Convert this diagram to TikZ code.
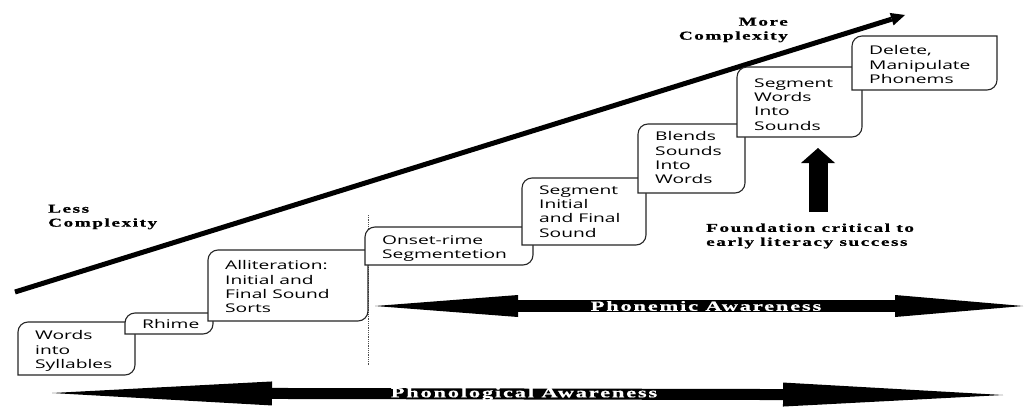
\documentclass[tikz,border=0pt]{standalone}
\usepackage{fontspec}
\newfontfamily\boxfont[FakeStretch=1.6]{Open Sans}
\newfontfamily\labelfont[FakeStretch=1.6,LetterSpace=13,BoldFeatures={FakeBold=0.8}]{Liberation Serif}
\usetikzlibrary{arrows.meta}

\tikzset{
  boxline/.style={draw=black!85, line width=1.1pt, fill=white},
  stairframe/.style={anchor=north west, inner sep=0pt, outer sep=0pt},
  stairtext/.style={anchor=north west, inner sep=0pt, align=left,
    font=\boxfont\fontsize{12}{14.3}\selectfont},
  lbl/.style={inner sep=0pt, font=\labelfont\bfseries\fontsize{12}{14}\selectfont},
  bandlbl/.style={inner sep=0pt, text=white,
    font=\labelfont\bfseries\fontsize{14}{16}\selectfont},
  band/.style={line width=12pt, black},
}

% one step of the stair: [text drop] name, x, y (top), width, height, text
\newcommand{\stairstep}[7][8.5]{%
  \node[stairframe, minimum width=#5pt, minimum height=#6pt] (#2) at (#3,#4) {};
  \filldraw[boxline] ([xshift=10pt]#2.north west) -- (#2.north east)
    -- ([yshift=10pt]#2.south east) arc[start angle=0,end angle=-90,radius=10pt]
    -- (#2.south west) -- ([yshift=-10pt]#2.north west)
    arc[start angle=180,end angle=90,radius=10pt] -- cycle;
  \node[stairtext] (#2-txt) at ([shift={(17pt,-#1pt)}]#2.north west) {#7};
}

\begin{document}
\begin{tikzpicture}[x=1pt,y=1pt]
  \useasboundingbox (0,0) rectangle (1024,408);
  % complexity arrow
  \coordinate (cplx-lo) at (15,116);
  \coordinate (cplx-hi) at (905,393);
  \draw[line width=5pt,-{Triangle[length=14pt,width=13pt,line width=0pt]}] (cplx-lo) -- (cplx-hi);
  \node[lbl,align=left,anchor=west]  (less) at (48,191)  {Less\\Complexity};
  \node[lbl,align=right,anchor=east] (more) at (788,378) {More\\Complexity};
  % split between the two awareness levels
  \coordinate (split-top) at (368,193);
  \coordinate (split-bot) at (368,43);
  \draw[densely dotted,black!70,line width=0.8pt] (split-top) -- (split-bot);
  % the stair
  \stairstep{ws}{18}{86}{117}{53}{Words\\into\\Syllables}
  \stairstep[6.5]{rh}{125}{95}{88}{21}{Rhime}
  \stairstep[10.5]{al}{208}{158}{160}{71}{Alliteration:\\Initial and\\Final Sound\\Sorts}
  \stairstep{on}{365}{181}{168}{38}{Onset-rime\\Segmentetion}
  \stairstep[7.5]{si}{522}{230}{124}{67}{Segment\\Initial\\and Final\\Sound}
  \stairstep[7.5]{bl}{638}{284}{107}{69}{Blends\\Sounds\\Into\\Words}
  \stairstep[11.5]{sw}{737}{341}{125}{70}{Segment\\Words\\Into\\Sounds}
  \stairstep[9.5]{dm}{852}{372}{145}{54}{Delete,\\Manipulate\\Phonems}
  % foundation arrow
  \node[lbl,align=left,anchor=west] (fnd) at (706,172) {Foundation critical to\\early literacy success};
  \coordinate (crit-base) at (818,196);
  \coordinate (crit-tip)  at (818,260);
  \draw[line width=19pt,-{Triangle[length=15pt,width=34pt,line width=0pt]}] (crit-base) -- (crit-tip);
  % awareness bands
  \coordinate (pm-l) at (375,102);
  \coordinate (pm-r) at (1023,102);
  \draw[band,{Triangle[length=143pt,width=22pt,line width=0pt]}-{Triangle[length=128pt,width=22pt,line width=0pt]}] (pm-l) -- (pm-r);
  \node[bandlbl] (pm) at (706,102) {Phonemic Awareness};
  \coordinate (pl-l) at (52,15);
  \coordinate (pl-r) at (1003,13);
  \draw[band,line width=11pt,{Triangle[length=220pt,width=24pt,line width=0pt]}-{Triangle[length=220pt,width=24pt,line width=0pt]}] (pl-l) -- (pl-r);
  \node[bandlbl] (pl) at (524,14) {Phonological Awareness};
\end{tikzpicture}
\end{document}
